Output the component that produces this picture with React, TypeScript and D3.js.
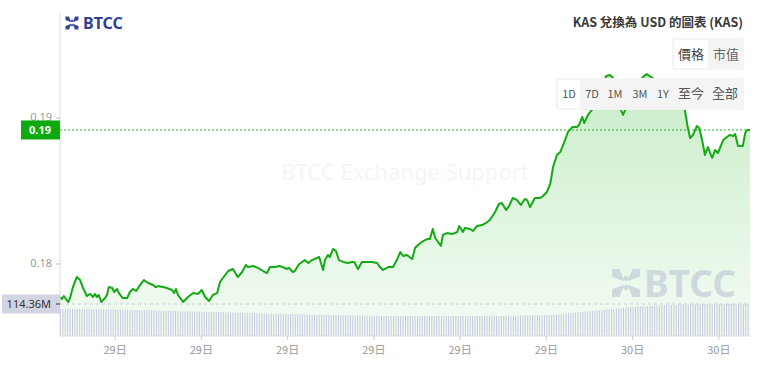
import * as d3 from 'd3';

// 24h window, 5-minute candles
const startTime = new Date(2024, 9, 29, 4, 5);

// price samples: minutes since start, price in USD
const priceMinutes = [
  0, 4, 8, 17, 21, 27, 35, 42, 48, 56, 63, 69, 73, 77, 81, 86, 94, 98, 102, 109,
  113, 119, 123, 131, 140, 146, 152, 159, 167, 175, 184, 194, 200, 205, 215, 223, 234, 238, 242, 246,
  257, 267, 278, 288, 296, 303, 311, 319, 328, 334, 340, 351, 361, 371, 380, 388, 392, 403, 413, 424,
  432, 438, 449, 457, 465, 474, 478, 486, 490, 499, 511, 518, 526, 536, 541, 549, 553, 559, 563, 570,
  576, 582, 591, 601, 609, 614, 622, 630, 641, 651, 662, 668, 674, 685, 695, 703, 710, 716, 724, 735,
  741, 747, 755, 766, 772, 778, 783, 789, 795, 799, 808, 818, 829, 833, 841, 845, 856, 862, 870, 881,
  889, 897, 908, 916, 922, 931, 937, 945, 954, 962, 970, 975, 981, 991, 1002, 1008, 1016, 1023, 1029, 1037,
  1044, 1054, 1060, 1069, 1079, 1083, 1090, 1094, 1102, 1110, 1121, 1131, 1140, 1148, 1154, 1162, 1169, 1175, 1181, 1190,
  1200, 1211, 1219, 1225, 1233, 1244, 1256, 1269, 1281, 1294, 1304, 1310, 1315, 1321, 1329, 1334, 1340, 1346, 1352, 1361,
  1367, 1373, 1384, 1392, 1398, 1405, 1409, 1415, 1425, 1430, 1434, 1440,
];
const priceValues = [
  0.17774, 0.1776, 0.17781, 0.1774, 0.17767, 0.17842, 0.17911, 0.1789, 0.17836, 0.17781, 0.17795, 0.17774, 0.17795, 0.17774, 0.17788, 0.1774, 0.17767, 0.17788, 0.17842, 0.17836,
  0.17808, 0.17829, 0.17801, 0.17767, 0.17767, 0.17808, 0.17829, 0.17815, 0.17856, 0.1789, 0.1787, 0.17856, 0.17842, 0.17849, 0.17842, 0.17836, 0.17822, 0.17801, 0.17829, 0.17788,
  0.1774, 0.17774, 0.17801, 0.17795, 0.17822, 0.17774, 0.17747, 0.17788, 0.17801, 0.17877, 0.17904, 0.17952, 0.17966, 0.17911, 0.17945, 0.17993, 0.17979, 0.17986, 0.17973, 0.17952,
  0.17938, 0.17979, 0.17979, 0.17986, 0.17979, 0.17966, 0.17973, 0.17945, 0.17952, 0.18, 0.18027, 0.18007, 0.18027, 0.18041, 0.18048, 0.17959, 0.18027, 0.18062, 0.18048, 0.18103,
  0.18089, 0.18027, 0.18014, 0.18007, 0.18014, 0.18014, 0.17966, 0.18014, 0.18014, 0.18014, 0.18007, 0.17979, 0.17959, 0.17979, 0.17979, 0.18027, 0.18082, 0.18055, 0.18062, 0.18034,
  0.1811, 0.1813, 0.18151, 0.18171, 0.18171, 0.1824, 0.18178, 0.18151, 0.18123, 0.18199, 0.18212, 0.18205, 0.18219, 0.1826, 0.18219, 0.18247, 0.1824, 0.18226, 0.1826, 0.18267,
  0.18281, 0.18301, 0.18356, 0.18411, 0.18418, 0.1837, 0.18397, 0.18452, 0.18438, 0.18404, 0.18445, 0.18438, 0.1839, 0.18452, 0.18452, 0.18466, 0.18493, 0.18548, 0.18664, 0.18747,
  0.18767, 0.18849, 0.18904, 0.18938, 0.18938, 0.18952, 0.19007, 0.18966, 0.19021, 0.19055, 0.19123, 0.19219, 0.19288, 0.19295, 0.19274, 0.19158, 0.19068, 0.19021, 0.19068, 0.19158,
  0.19226, 0.1926, 0.19288, 0.19301, 0.19281, 0.1926, 0.19247, 0.19226, 0.19205, 0.19158, 0.19055, 0.18938, 0.18863, 0.18884, 0.18945, 0.18932, 0.18849, 0.18747, 0.18801, 0.18726,
  0.18781, 0.1876, 0.18849, 0.1887, 0.18884, 0.18877, 0.1889, 0.18808, 0.18808, 0.18897, 0.18918, 0.18918,
];

// 24h volume, millions, one value per 5-minute bar
const volumeM = [
  97.2, 97.0, 96.9, 97.1, 96.8, 96.6, 96.7, 96.5, 96.4, 96.6, 96.3, 96.2,
  96.0, 95.8, 95.9, 95.6, 95.4, 95.5, 95.2, 95.0, 94.9, 94.7, 94.8, 94.5,
  94.2, 94.0, 93.8, 93.9, 93.5, 93.3, 93.1, 92.9, 92.8, 92.6, 92.4, 92.2,
  92.0, 91.8, 91.6, 91.4, 91.1, 90.9, 90.7, 90.5, 90.2, 90.0, 89.8, 89.6,
  89.3, 89.1, 88.9, 88.6, 88.4, 88.2, 88.0, 87.7, 87.5, 87.3, 87.0, 86.8,
  86.6, 86.3, 86.1, 85.9, 85.6, 85.4, 85.2, 84.9, 84.7, 84.5, 84.2, 84.0,
  83.8, 83.5, 83.3, 83.1, 82.8, 82.6, 82.4, 82.1, 81.9, 81.7, 81.4, 81.2,
  81.0, 80.7, 80.5, 80.3, 80.0, 79.8, 79.6, 79.3, 79.1, 78.9, 78.7, 78.5,
  78.3, 78.1, 77.9, 77.7, 77.5, 77.3, 77.1, 76.9, 76.7, 76.5, 76.3, 76.1,
  75.9, 75.7, 75.5, 75.3, 75.1, 75.0, 74.8, 74.6, 74.4, 74.2, 74.0, 73.8,
  73.7, 73.5, 73.4, 73.2, 73.1, 72.9, 72.8, 72.7, 72.5, 72.4, 72.3, 72.2,
  72.1, 72.0, 71.9, 71.8, 71.8, 71.7, 71.6, 71.6, 71.5, 71.5, 71.4, 71.4,
  71.3, 71.4, 71.2, 71.3, 71.5, 71.4, 71.3, 71.2, 71.4, 71.5, 71.3, 71.2,
  71.4, 71.6, 71.5, 71.3, 71.4, 71.6, 71.7, 71.5, 71.4, 71.6, 71.8, 71.7,
  71.6, 71.8, 71.9, 71.7, 71.8, 72.0, 71.9, 71.8, 72.0, 72.1, 71.9, 72.0,
  72.1, 72.2, 72.0, 72.1, 72.3, 72.2, 72.4, 72.3, 72.5, 72.6, 72.4, 72.6,
  72.7, 72.9, 73.0, 72.8, 73.1, 73.3, 73.2, 73.5, 73.7, 73.9, 74.2, 74.5,
  74.9, 75.4, 76.0, 76.7, 77.5, 78.3, 79.2, 80.0, 80.8, 81.7, 82.5, 83.4,
  84.3, 85.2, 86.1, 87.0, 87.8, 88.7, 89.6, 90.5, 91.4, 92.3, 93.2, 94.1,
  95.0, 95.9, 96.8, 97.7, 98.6, 99.5, 100.3, 101.1, 101.9, 102.7, 103.5, 104.3,
  104.9, 105.5, 106.0, 106.5, 107.0, 107.5, 107.9, 108.3, 108.7, 109.1, 109.5, 109.8,
  110.1, 110.4, 110.7, 111.0, 111.3, 111.6, 111.9, 112.1, 112.3, 112.5, 112.7, 112.9,
  113.1, 113.3, 113.4, 113.6, 113.7, 113.8, 113.9, 114.0, 114.1, 114.1, 114.2, 114.2,
  114.2, 114.3, 114.3, 114.3, 114.3, 114.3, 114.4, 114.3, 114.4, 114.3, 114.4, 114.36,
];

const priceTicks = [0.18, 0.19];
const typeButtons = ['價格', '市值'];
const rangeButtons = ['1D', '7D', '1M', '3M', '1Y', '至今', '全部'];
const title = 'KAS 兌換為 USD 的圖表 (KAS)';

const W = 761;
const H = 371;
const FONT = '"Noto Sans", "Noto Sans CJK TC", sans-serif';
const CJK = '"Noto Sans CJK TC", "Noto Sans", sans-serif';

const Logo = ({ x, y, s, color }: { x: number; y: number; s: number; color: string }) => {
  // X-shaped mark, four arms that stop short of the centre
  const arms = [
    [-1, -1],
    [1, -1],
    [1, 1],
    [-1, 1],
  ];
  return (
    <g transform={`translate(${x},${y})`} fill={color}>
      {arms.map(([dx, dy], i) => (
        <polygon
          key={i}
          points={`${dx * s},${dy * s} ${dx * s * 0.45},${dy * s} ${dx * s * 0.12},${dy * s * 0.12} ${dx * s},${dy * s * 0.45}`}
        />
      ))}
      <polygon points={`0,${-s * 0.55} ${s * 0.22},${-s * 0.33} 0,${-s * 0.11} ${-s * 0.22},${-s * 0.33}`} />
      <polygon points={`0,${s * 0.55} ${s * 0.22},${s * 0.33} 0,${s * 0.11} ${-s * 0.22},${s * 0.33}`} />
    </g>
  );
};

export default function App() {
  const left = 60;
  const right = 750;
  const axisY = 336;

  const x = d3
    .scaleTime()
    .domain([startTime, d3.timeMinute.offset(startTime, 1440)])
    .range([left, right]);
  const y = d3.scaleLinear().domain([0.18, 0.19]).range([264, 118]);
  const lastVol = volumeM[volumeM.length - 1];
  const yVol = d3.scaleLinear().domain([0, lastVol]).range([axisY, 304]);

  const points = priceMinutes.map((m, i) => ({
    t: d3.timeMinute.offset(startTime, m),
    p: priceValues[i],
  }));

  const line = d3
    .line<{ t: Date; p: number }>()
    .x((d) => x(d.t))
    .y((d) => y(d.p));
  const area = d3
    .area<{ t: Date; p: number }>()
    .x((d) => x(d.t))
    .y0(axisY)
    .y1((d) => y(d.p));

  const lastPrice = priceValues[priceValues.length - 1];
  const xTicks = x.ticks(d3.timeHour.every(3) as d3.TimeInterval);
  const dayFmt = d3.timeFormat('%-d日');

  // button label centres
  const rangeCenters = [569, 592, 615, 640, 663, 691, 725];

  return (
    <svg
      width={W}
      height={H}
      style={{ position: 'absolute', left: 0, top: 0, background: '#fff' }}
    >
      <defs>
        <linearGradient id="areaFill" x1="0" y1="0" x2="0" y2="1">
          <stop offset="0%" stopColor="#1ab31a" stopOpacity={0.24} />
          <stop offset="55%" stopColor="#1ab31a" stopOpacity={0.13} />
          <stop offset="100%" stopColor="#1ab31a" stopOpacity={0.05} />
        </linearGradient>
      </defs>

      {/* watermark */}
      <text
        x={405}
        y={180}
        textAnchor="middle"
        fontFamily={FONT}
        fontSize={22}
        fill="#f5f5f5"
      >
        BTCC Exchange Support
      </text>

      <path d={area(points) ?? ''} fill="url(#areaFill)" />

      {/* large bottom-right mark */}
      <g opacity={0.7}>
        <Logo x={626} y={283} s={14} color="#c3ccd8" />
        <text x={644} y={297} fontFamily={FONT} fontWeight="bold" fontSize={37} fill="#c3ccd8">
          BTCC
        </text>
      </g>

      {/* volume */}
      {volumeM.map((v, i) => {
        const bx = x(d3.timeMinute.offset(startTime, i * 5));
        return (
          <rect
            key={i}
            x={bx}
            y={yVol(v)}
            width={1}
            height={axisY - yVol(v)}
            fill="#c6cadf"
          />
        );
      })}
      <line
        x1={left}
        x2={right}
        y1={yVol(lastVol)}
        y2={yVol(lastVol)}
        stroke="#c9ccd8"
        strokeDasharray="3 3"
      />

      <path d={line(points) ?? ''} fill="none" stroke="#14aa14" strokeWidth={2} strokeLinejoin="round" />

      {/* last price */}
      <line
        x1={left}
        x2={right}
        y1={y(lastPrice)}
        y2={y(lastPrice)}
        stroke="#21b021"
        strokeDasharray="2 2"
      />

      {/* axes */}
      <line x1={left} x2={left} y1={12} y2={axisY} stroke="#dcdcdc" />
      <line x1={left} x2={right} y1={axisY} y2={axisY} stroke="#dcdcdc" />
      {priceTicks.map((t) => (
        <g key={t}>
          <line x1={left - 4} x2={left} y1={y(t)} y2={y(t)} stroke="#bbb" />
          <text
            x={left - 8}
            y={y(t)}
            dy="0.3em"
            textAnchor="end"
            fontFamily={FONT}
            fontSize={11}
            fill="#9a9a9a"
          >
            {d3.format('.2f')(t)}
          </text>
        </g>
      ))}
      {xTicks.map((t, i) => (
        <g key={i}>
          <line x1={x(t)} x2={x(t)} y1={axisY} y2={axisY + 4} stroke="#ccc" />
          <text
            x={x(t)}
            y={axisY + 18}
            textAnchor="middle"
            fontFamily={CJK}
            fontSize={11}
            fill="#9a9a9a"
          >
            {dayFmt(t)}
          </text>
        </g>
      ))}

      {/* price badge */}
      <rect x={21} y={y(lastPrice) - 9.5} width={left - 21} height={19} fill="#0caa0c" />
      <text
        x={40}
        y={y(lastPrice)}
        dy="0.36em"
        textAnchor="middle"
        fontFamily={FONT}
        fontWeight="bold"
        fontSize={11}
        fill="#fff"
      >
        {d3.format('.2f')(lastPrice)}
      </text>

      {/* volume badge */}
      <rect x={2} y={yVol(lastVol) - 9.5} width={left - 2} height={19} fill="#d1d5e3" />
      <line x1={left - 4} x2={left} y1={yVol(lastVol)} y2={yVol(lastVol)} stroke="#333" />
      <text
        x={51}
        y={yVol(lastVol)}
        dy="0.36em"
        textAnchor="end"
        fontFamily={FONT}
        fontSize={11}
        fill="#333"
      >
        {d3.format('.2f')(lastVol)}M
      </text>

      {/* header */}
      <Logo x={72} y={23} s={6.5} color="#34479a" />
      <text x={83} y={29} fontFamily={FONT} fontWeight="bold" fontSize={16} fill="#2f4192">
        BTCC
      </text>
      <text
        x={743}
        y={27}
        textAnchor="end"
        fontFamily={CJK}
        fontWeight="bold"
        fontSize={12.5}
        fill="#3a3a3a"
      >
        {title}
      </text>

      {/* buttons */}
      <rect x={672} y={38} width={72} height={32} rx={3} fill="#f4f4f4" />
      <rect x={674} y={40} width={34} height={28} rx={2} fill="#fff" />
      {typeButtons.map((b, i) => (
        <text
          key={b}
          x={[691, 726][i]}
          y={59}
          textAnchor="middle"
          fontFamily={CJK}
          fontSize={13}
          fill={i === 0 ? '#444' : '#666'}
        >
          {b}
        </text>
      ))}
      <rect x={556} y={78} width={188} height={32} rx={3} fill="#f4f4f4" />
      <rect x={558} y={80} width={22} height={28} rx={2} fill="#fff" />
      {rangeButtons.map((b, i) => (
        <text
          key={b}
          x={rangeCenters[i]}
          y={98}
          textAnchor="middle"
          fontFamily={CJK}
          fontSize={i >= 5 ? 13 : 11}
          fill="#555"
        >
          {b}
        </text>
      ))}
    </svg>
  );
}
